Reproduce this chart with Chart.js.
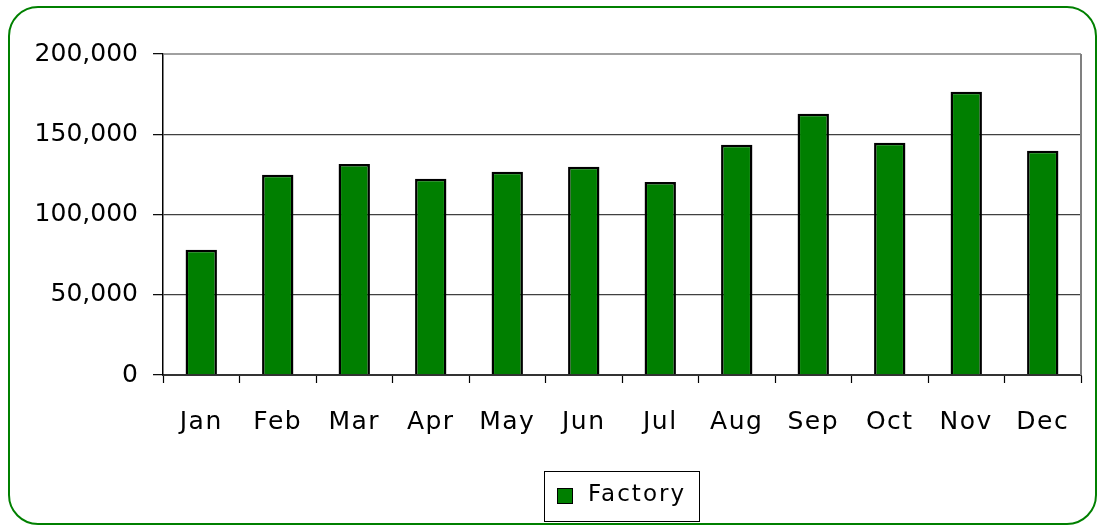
<!DOCTYPE html>
<html><head><meta charset="utf-8">
<script src="https://cdn.jsdelivr.net/npm/chart.js@4/dist/chart.umd.min.js"></script>
<style>
html,body{margin:0;padding:0;background:#fff;}
#wrap{position:relative;width:1098px;height:527px;overflow:hidden;}
#frame{position:absolute;left:8px;top:6px;width:1089px;height:519px;box-sizing:border-box;border:2.5px solid #008000;border-radius:30px;pointer-events:none;}
canvas{position:absolute;left:0;top:0;}
</style></head><body>
<div id="wrap"><canvas id="c" width="1098" height="527"></canvas><div id="frame"></div></div>
<script>
const categories = ['Jan','Feb','Mar','Apr','May','Jun','Jul','Aug','Sep','Oct','Nov','Dec'];
const factory = [78000, 124700, 131500, 122200, 126600, 129700, 120300, 143400, 162800, 144700, 176500, 139700];
const yTicks = [0, 50000, 100000, 150000, 200000];
const seriesName = 'Factory';

const FONT = '"DejaVu Sans", Verdana, sans-serif';

const xSpacing = {
  id: 'xSpacing',
  beforeDraw(chart) {
    const s = chart.scales.x;
    if (!s._lsPatched) {
      const orig = s.drawLabels.bind(s);
      s.drawLabels = function (a) {
        const c = chart.ctx;
        c.save();
        c.letterSpacing = '1.5px';
        orig(a);
        c.restore();
      };
      s._lsPatched = true;
    }
  }
};

const plotBorder = {
  id: 'plotBorder',
  afterDraw(chart) {
    const {ctx, chartArea: a} = chart;
    ctx.save();
    ctx.strokeStyle = '#808080';
    ctx.lineWidth = 1.5;
    ctx.beginPath();
    ctx.moveTo(a.left, a.top);
    ctx.lineTo(a.right, a.top);
    ctx.stroke();
    ctx.lineWidth = 2;
    ctx.beginPath();
    ctx.moveTo(a.right, a.top);
    ctx.lineTo(a.right, a.bottom);
    ctx.stroke();
    ctx.restore();
  }
};

const boxLegend = {
  id: 'boxLegend',
  afterDraw(chart) {
    const {ctx, chartArea: a} = chart;
    const ds = chart.data.datasets[0];
    ctx.save();
    ctx.font = '23px ' + FONT;
    ctx.letterSpacing = '2px';
    const tw = ctx.measureText(ds.label).width - 2;
    const padL = 13, sq = 16, gap = 15, padR = 15, h = 50;
    const w = padL + sq + gap + tw + padR;
    const cx = (a.left + a.right) / 2;
    const x0 = Math.round(cx - w / 2);
    const y0 = Math.round(a.bottom + 95.5);
    ctx.strokeStyle = '#000';
    ctx.lineWidth = 1;
    ctx.strokeRect(x0 + 0.5, y0 + 0.5, Math.round(w), h);
    const cy = y0 + h / 2;
    ctx.fillStyle = ds.backgroundColor;
    ctx.fillRect(x0 + padL, cy - sq / 2, sq, sq);
    ctx.strokeRect(x0 + padL + 0.5, cy - sq / 2 + 0.5, sq - 1, sq - 1);
    ctx.fillStyle = '#000';
    ctx.textBaseline = 'middle';
    ctx.textAlign = 'left';
    ctx.fillText(ds.label, x0 + padL + sq + gap, cy - 1);
    ctx.restore();
  }
};

new Chart(document.getElementById('c'), {
  type: 'bar',
  data: {
    labels: categories,
    datasets: [{
      label: seriesName,
      data: factory,
      backgroundColor: '#007f00',
      borderColor: '#000',
      borderWidth: 2.5,
      borderSkipped: 'bottom',
      categoryPercentage: 1,
      barPercentage: 0.41
    }]
  },
  options: {
    responsive: false,
    animation: false,
    layout: {padding: {left: 0, top: 54, right: 17, bottom: 72}},
    plugins: {legend: {display: false}, tooltip: {enabled: false}},
    scales: {
      x: {
        offset: true,
        grid: {display: true, drawOnChartArea: false, offset: true, tickLength: 8, tickColor: '#000', tickWidth: 1.2},
        border: {display: true, color: '#333', width: 2},
        ticks: {color: '#000', font: {family: FONT, size: 25}, padding: 24, maxRotation: 0, autoSkip: false},
        afterFit(s) { s.height = 80; }
      },
      y: {
        min: 0, max: 200000,
        afterBuildTicks(s) { s.ticks = yTicks.map(v => ({value: v})); },
        grid: {
          color: c => (c.tick && c.tick.value === 200000) ? 'rgba(0,0,0,0)' : '#404040',
          lineWidth: 1.3,
          tickLength: 10, tickColor: '#000', tickWidth: 1.2
        },
        border: {display: true, color: '#000', width: 1.5},
        ticks: {
          color: '#000', font: {family: FONT, size: 25}, padding: 15,
          callback: v => Number(v).toLocaleString('en-US')
        },
        afterFit(s) { s.width = 163; }
      }
    }
  },
  plugins: [xSpacing, plotBorder, boxLegend]
});
</script>
</body></html>
